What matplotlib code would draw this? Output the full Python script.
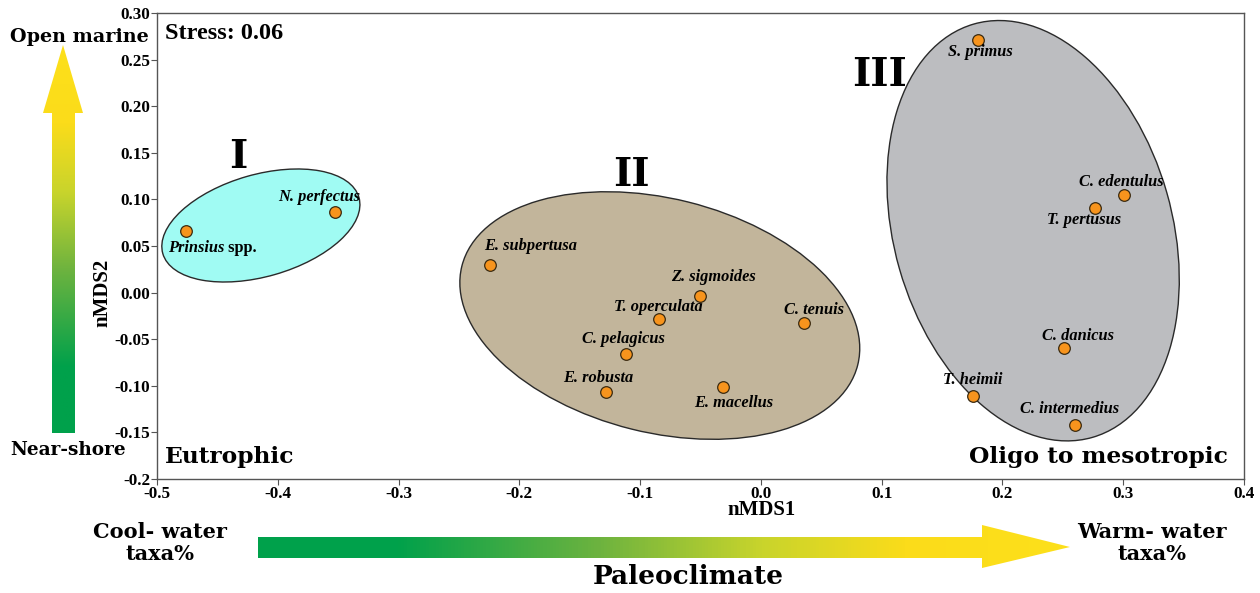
import matplotlib
matplotlib.use('Agg')
import matplotlib.pyplot as plt
import numpy as np
from matplotlib.patches import Ellipse, Polygon
from matplotlib.colors import LinearSegmentedColormap
from matplotlib.transforms import ScaledTranslation

# nMDS scores
species = ['Prinsius', 'N. perfectus', 'E. subpertusa', 'Z. sigmoides', 'T. operculata',
           'C. tenuis', 'C. pelagicus', 'E. robusta', 'E. macellus', 'S. primus',
           'C. edentulus', 'T. pertusus', 'C. danicus', 'T. heimii', 'C. intermedius']
nmds1 = [-0.476, -0.353, -0.2245, -0.0505, -0.084, 0.036, -0.112, -0.128, -0.031,
         0.180, 0.301, 0.277, 0.251, 0.176, 0.260]
nmds2 = [0.066, 0.087, 0.030, -0.004, -0.028, -0.033, -0.066, -0.107, -0.101,
         0.271, 0.105, 0.091, -0.059, -0.111, -0.142]

xtick_vals = [-0.5, -0.4, -0.3, -0.2, -0.1, 0.0, 0.1, 0.2, 0.3, 0.4]
xtick_labels = ['-0.5', '-0.4', '-0.3', '-0.2', '-0.1', '0.0', '0.1', '0.2', '0.3', '0.4']
ytick_vals = [-0.2, -0.15, -0.10, -0.05, 0.0, 0.05, 0.10, 0.15, 0.20, 0.25, 0.30]
ytick_labels = ['-0.2', '-0.15', '-0.10', '-0.05', '0.00', '0.05', '0.10', '0.15', '0.20', '0.25', '0.30']

# groups: name, centre (nMDS1, nMDS2), colour
group_names = ['I', 'II', 'III']
group_centres = [(-0.414, 0.072), (-0.0837, -0.0246), (0.2254, 0.0664)]
group_colours = ['#a0fbf3', '#c2b59b', '#bcbdc0']
group_label_pos = [(-0.4325, 0.146), (-0.107, 0.126), (0.0986, 0.233)]

# label offsets in pixels (dx right, dy up), alignment
label_offsets = [(-18, -17, 'left'), (-15, 15, 'center'), (-6, 19, 'left'), (14, 19, 'center'),
                 (-1, 12, 'center'), (10, 13, 'center'), (-2, 15, 'center'), (-8, 14, 'center'),
                 (10, -16, 'center'), (2, -12, 'center'), (-3, 13, 'center'), (-11, -12, 'center'),
                 (14, 12, 'center'), (-1, 16, 'center'), (-5, 16, 'center')]

serif = 'Liberation Serif'
slab = 'DejaVu Serif'

fig = plt.figure(figsize=(12.6, 5.93), dpi=100)

# background axes in pixel coordinates for arrows and outer text
bg = fig.add_axes([0, 0, 1, 1], zorder=0)
bg.axis('off')

cmap = LinearSegmentedColormap.from_list('clim', [(0, '#00a14b'), (0.17, '#00a14b'), (0.42, '#6db33f'),
                                                  (0.62, '#c8d42c'), (0.8, '#fbdc1a'), (1, '#fde01a')])

# horizontal arrow
h_arrow = Polygon([(258, 537), (982, 537), (982, 525), (1070, 547), (982, 568), (982, 558), (258, 558)],
                  closed=True, facecolor='none', edgecolor='none')
bg.add_patch(h_arrow)
grad = np.linspace(0, 1, 256).reshape(1, -1)
im = bg.imshow(grad, cmap=cmap, extent=(258, 1070, 568, 525), aspect='auto')
im.set_clip_path(h_arrow)

# vertical arrow
v_arrow = Polygon([(52, 433), (52, 113), (43, 113), (63, 45), (83, 113), (75, 113), (75, 433)],
                  closed=True, facecolor='none', edgecolor='none')
bg.add_patch(v_arrow)
grad_v = np.linspace(1, 0, 256).reshape(-1, 1)
im2 = bg.imshow(grad_v, cmap=cmap, extent=(43, 83, 433, 45), aspect='auto')
im2.set_clip_path(v_arrow)
bg.set_xlim(0, 1260)
bg.set_ylim(593, 0)

bg.text(79, 37, 'Open marine', family=slab, weight='bold', size=13.8, ha='center', va='center')
bg.text(68, 450, 'Near-shore', family=slab, weight='bold', size=13.3, ha='center', va='center')
bg.text(160, 543, 'Cool- water\ntaxa%', family=slab, weight='bold', size=15, ha='center', va='center',
        linespacing=1.1)
bg.text(1152, 543, 'Warm- water\ntaxa%', family=slab, weight='bold', size=15, ha='center', va='center',
        linespacing=1.1)
bg.text(688, 577, 'Paleoclimate', family=slab, weight='bold', size=19, ha='center', va='center')

# main nMDS axes
ax = fig.add_axes([157 / 1260, 1 - 479 / 593, 1087 / 1260, 466 / 593], zorder=1)
ax.set_xlim(-0.5, 0.4)
ax.set_ylim(-0.2, 0.3)

for (cx, cy), col, ang, a, b in zip(group_centres, group_colours, [16, -14, 106],
                                    [102, 204, 215], [51, 117, 139]):
    tr = fig.dpi_scale_trans + ScaledTranslation(cx, cy, ax.transData)
    ax.add_patch(Ellipse((0, 0), 2 * a / 100, 2 * b / 100, angle=ang, transform=tr,
                         facecolor=col, edgecolor='#2a2a2a', linewidth=1, zorder=1))

ax.scatter(nmds1, nmds2, s=70, facecolor='#f7941d', edgecolor='#3a2a10', linewidth=0.9, zorder=3)

for name, x, y, (dx, dy, ha) in zip(species, nmds1, nmds2, label_offsets):
    t = ax.annotate(name, (x, y), xytext=(dx * 0.72, dy * 0.72), textcoords='offset points',
                    ha=ha, va='center', family=serif, style='italic', weight='bold', size=11.8, zorder=4)
    if name == 'Prinsius':
        ax.annotate(' spp.', xy=(1, 0), xycoords=t, ha='left', va='bottom',
                    family=serif, weight='bold', size=11.8, zorder=4)

for name, (x, y) in zip(group_names, group_label_pos):
    ax.text(x, y, name, family=slab, weight='bold', size=28, ha='center', va='center')

ax.text(0.0074, 0.957, 'Stress: 0.06', transform=ax.transAxes, family=serif, weight='bold', size=17.5,
        ha='left', va='center')
ax.text(0.0074, 0.047, 'Eutrophic', transform=ax.transAxes, family=slab, weight='bold', size=16.8,
        ha='left', va='center')
ax.text(0.985, 0.047, 'Oligo to mesotropic', transform=ax.transAxes, family=slab, weight='bold', size=16.8,
        ha='right', va='center')

ax.set_xticks(xtick_vals)
ax.set_xticklabels(xtick_labels)
ax.set_yticks(ytick_vals)
ax.set_yticklabels(ytick_labels)
ax.tick_params(direction='out', length=4, width=0.8, color='#555555', pad=1, labelsize=12.3)
for lab in ax.get_xticklabels() + ax.get_yticklabels():
    lab.set_family(serif)
    lab.set_fontweight('bold')
for sp in ax.spines.values():
    sp.set_color('#555555')
    sp.set_linewidth(1)

ax.set_xlabel('nMDS1', family=serif, weight='bold', size=15)
ax.set_ylabel('nMDS2', family=serif, weight='bold', size=15)
ax.xaxis.set_label_coords(0.5566, -0.045)
ax.yaxis.set_label_coords(-0.041, 0.40)

fig.savefig('out.png', dpi=100)
